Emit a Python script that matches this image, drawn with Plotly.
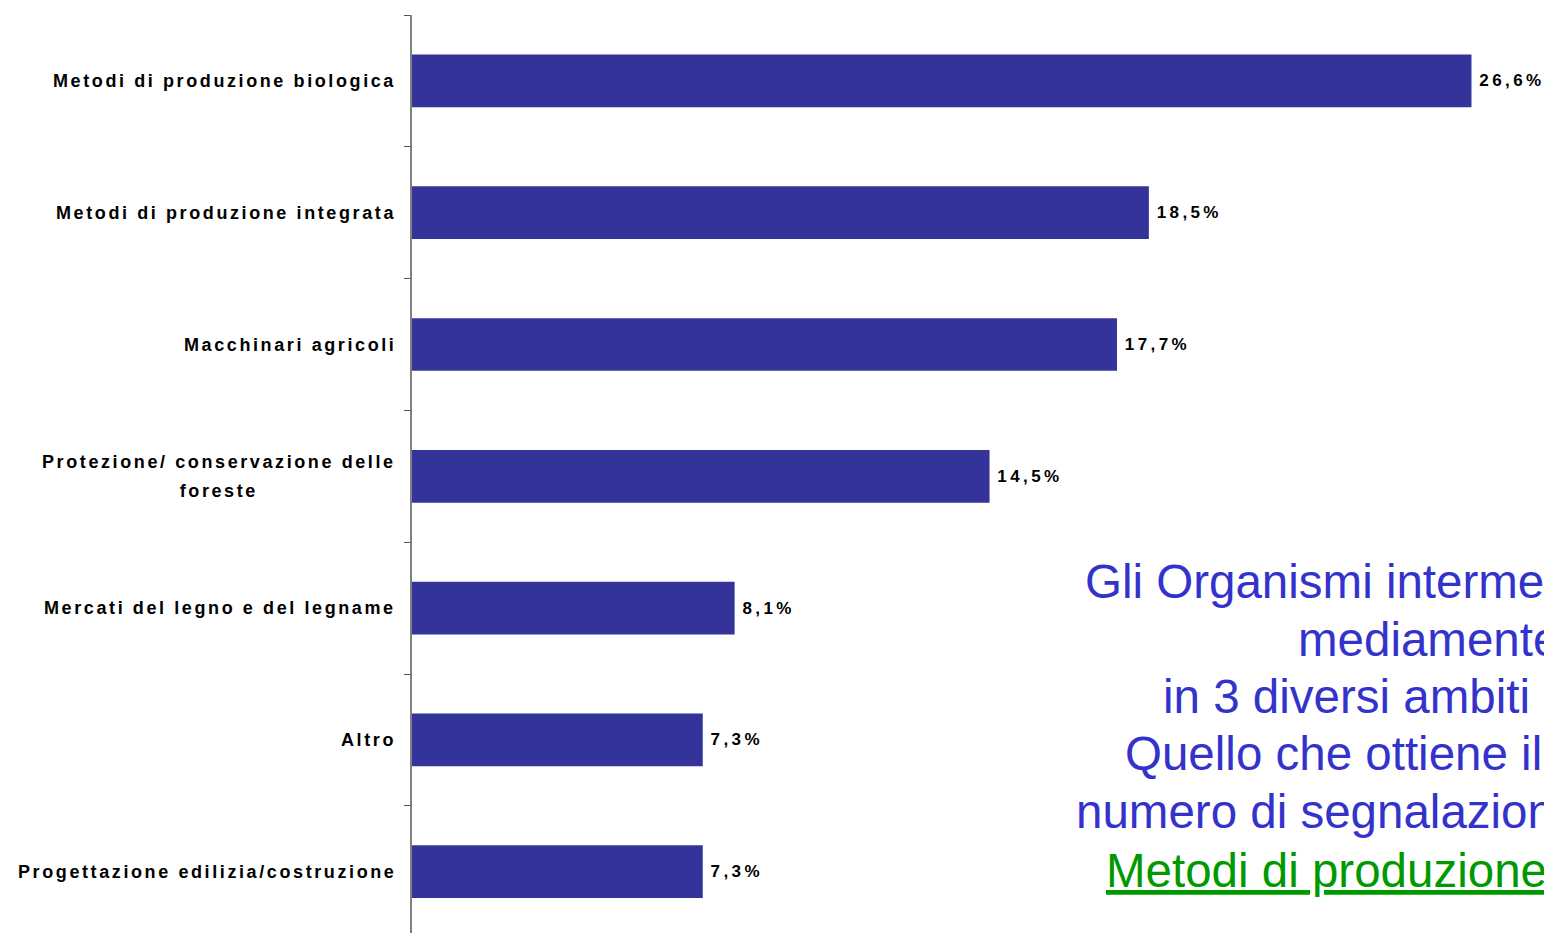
import plotly.graph_objects as go

# ---- data ----
categories = [
    "Metodi di produzione biologica",
    "Metodi di produzione integrata",
    "Macchinari agricoli",
    "Protezione/ conservazione delle<br>foreste",
    "Mercati del legno e del legname",
    "Altro",
    "Progettazione edilizia/costruzione",
]
values = [26.6, 18.5, 17.7, 14.5, 8.1, 7.3, 7.3]

note_lines = [
    "Gli Organismi intermedi",
    "mediamente",
    "in 3 diversi ambiti",
    "Quello che ottiene il",
    "numero di segnalazioni",
    "Metodi di produzione biologica",
]

# ---- layout constants ----
W, H = 1544, 933
ML, MT, MB, MR = 412, 15, 0, 0
PW, PH = W - ML - MR, H - MT - MB
BAR_COLOR = "#333399"
BLUE = "#3333CC"
GREEN = "#009900"
LABEL_FONT = "Liberation Sans"


def px_x(p):
    return (p - ML) / PW


def px_y(p):
    return (H - MB - p) / PH


fig = go.Figure()
fig.add_trace(go.Bar(
    y=categories,
    x=values,
    orientation="h",
    marker=dict(color=BAR_COLOR, line=dict(width=0)),
    texttemplate='<span style="letter-spacing:3.4px">\u200a%{x:.1f}%</span>',
    textposition="outside",
    textfont=dict(family=LABEL_FONT, size=17, color="black", weight="bold"),
    cliponaxis=False,
    constraintext="none",
    hoverinfo="skip",
))

annotations = []
# category labels (centered multi-line, extra line spacing)
for cat in categories:
    lines = cat.split("<br>")
    styled = [
        '<span style="font-size:18px;letter-spacing:2.6px">' + ln + "</span>"
        for ln in lines
    ]
    text = "<br> <br>".join(styled)
    annotations.append(dict(
        xref="paper", yref="y", x=0, y=cat,
        xanchor="right", yanchor="middle", xshift=-14,
        text=text, showarrow=False, align="center",
        font=dict(family=LABEL_FONT, size=11, color="black", weight="bold"),
    ))

# right side note (cut off at the page edge)
note_x = [1083, 1296, 1161, 1123, 1074, 1104]
note_y = [581, 639, 696, 753, 811, 870]
for i, (t, xp, yp) in enumerate(zip(note_lines, note_x, note_y)):
    last = i == len(note_lines) - 1
    annotations.append(dict(
        xref="paper", yref="paper", x=px_x(xp), y=px_y(yp),
        xanchor="left", yanchor="middle",
        text=("<u>" + t + "</u>") if last else t,
        showarrow=False, align="left",
        font=dict(family=LABEL_FONT, size=47.5, color=GREEN if last else BLUE),
    ))

fig.update_layout(
    width=W, height=H,
    margin=dict(l=ML, r=MR, t=MT, b=MB, pad=0),
    paper_bgcolor="white", plot_bgcolor="white",
    separators=",.",
    bargap=0.6,
    showlegend=False,
    annotations=annotations,
    xaxis=dict(visible=False, range=[0, PW / 39.83]),
    yaxis=dict(
        type="category",
        categoryorder="array", categoryarray=categories,
        range=[6.465, -0.5],
        showticklabels=False,
        showgrid=False, zeroline=False,
        showline=True, linecolor="#808080", linewidth=1.5,
        ticks="outside", tickson="boundaries", ticklen=6,
        tickcolor="#555555", tickwidth=1,
    ),
)

fig.write_html(
    "out.html",
    config={"displayModeBar": False},
    post_script="document.body.style.margin='0';document.body.style.overflow='hidden';",
)
